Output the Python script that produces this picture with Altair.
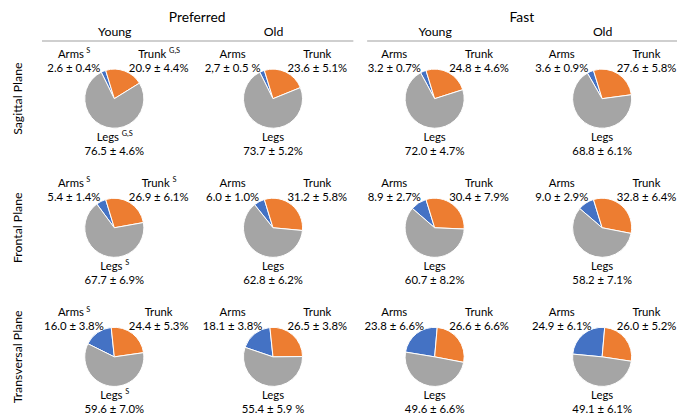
import math
import altair as alt
import pandas as pd

FONT = "Lato"

planes = ["Sagittal Plane", "Frontal Plane", "Transversal Plane"]
speeds = ["Preferred", "Fast"]
ages = ["Young", "Old"]
parts = ["Arms", "Trunk", "Legs"]
part_colors = ["#4472C4", "#ED7D31", "#A5A5A5"]

# columns: Preferred-Young, Preferred-Old, Fast-Young, Fast-Old
arms_mean = [[2.6, 2.7, 3.2, 3.6], [5.4, 6.0, 8.9, 9.0], [16.0, 18.1, 23.8, 24.9]]
trunk_mean = [[20.9, 23.6, 24.8, 27.6], [26.9, 31.2, 30.4, 32.8], [24.4, 26.5, 26.6, 26.0]]
legs_mean = [[76.5, 73.7, 72.0, 68.8], [67.7, 62.8, 60.7, 58.2], [59.6, 55.4, 49.6, 49.1]]

arms_text = [["2.6 ± 0.4%", "2,7 ± 0.5 %", "3.2 ± 0.7%", "3.6 ± 0.9%"],
             ["5.4 ± 1.4%", "6.0 ± 1.0%", "8.9 ± 2.7%", "9.0 ± 2.9%"],
             ["16.0 ± 3.8%", "18.1 ± 3.8%", "23.8 ± 6.6%", "24.9 ±  6.1%"]]
trunk_text = [["20.9 ± 4.4%", "23.6 ± 5.1%", "24.8 ± 4.6%", "27.6 ± 5.8%"],
              ["26.9 ± 6.1%", "31.2 ± 5.8%", "30.4 ± 7.9%", "32.8 ± 6.4%"],
              ["24.4 ± 5.3%", "26.5 ± 3.8%", "26.6 ± 6.6%", "26.0 ± 5.2%"]]
legs_text = [["76.5 ± 4.6%", "73.7 ± 5.2%", "72.0 ± 4.7%", "68.8 ± 6.1%"],
             ["67.7 ± 6.9%", "62.8 ± 6.2%", "60.7 ± 8.2%", "58.2 ± 7.1%"],
             ["59.6 ± 7.0%", "55.4 ± 5.9 %", "49.6 ± 6.6%", "49.1 ± 6.1%"]]

arms_sup = [["S", "", "", ""], ["S", "", "", ""], ["S", "", "", ""]]
trunk_sup = [["G,S", "", "", ""], ["S", "", "", ""], ["", "", "", ""]]
legs_sup = [["G,S", "", "", ""], ["S", "", "", ""], ["S", "", "", ""]]

means = {"Arms": arms_mean, "Trunk": trunk_mean, "Legs": legs_mean}
texts = {"Arms": arms_text, "Trunk": trunk_text, "Legs": legs_text}
sups = {"Arms": arms_sup, "Trunk": trunk_sup, "Legs": legs_sup}

rows = []
for pi, plane in enumerate(planes):
    ci = 0
    for speed in speeds:
        for age in ages:
            for part in parts:
                rows.append({
                    "plane": plane, "speed": speed, "age": age, "part": part,
                    "value": means[part][pi][ci],
                    "label": texts[part][pi][ci],
                    "sup": sups[part][pi][ci],
                })
            ci += 1
df = pd.DataFrame(rows)

# label layout: (dx, name dy, value dy, name width)
label_pos = {
    "Arms": (-41, -44, -30, 27),
    "Trunk": (45, -44, -30, 30),
    "Legs": (0, 40, 54, 24),
}
sup_width = {"": 0, "S": 4, "G,S": 11}

H = 375
TWO_PI = 2 * math.pi


def panel(speed, width, xpad, xalign, rot_top, rot_bottom, row_labels):
    base = alt.Chart(df).transform_filter(alt.datum.speed == speed)
    xenc = alt.X(
        "age:N",
        scale=alt.Scale(type="point", domain=ages, padding=xpad, align=xalign),
        axis=alt.Axis(orient="top", title=None, ticks=False, grid=False,
                      domainColor="#BFBFBF", domainWidth=1.5, labelAngle=0,
                      labelFont=FONT, labelFontSize=12.5, labelColor="black",
                      labelPadding=2),
    )
    yenc = alt.Y(
        "plane:N",
        scale=alt.Scale(type="point", domain=planes, padding=0.431, align=0.522),
        axis=None,
    )
    stacked = (
        base.transform_calculate(order="indexof(['Trunk','Legs','Arms'], datum.part)")
        .transform_stack(stack="value", groupby=["plane", "age"], as_=["t0", "t1"],
                         offset="normalize", sort=[alt.SortField("order")])
    )

    def pie(filt, rot_deg):
        r = math.radians(rot_deg)
        return (
            stacked.transform_filter(filt)
            .mark_arc(radius=30, stroke="white", strokeWidth=1)
            .encode(
                x=xenc, y=yenc,
                theta=alt.Theta("t0:Q", stack=None,
                                scale=alt.Scale(domain=[0, 1], range=[r, r + TWO_PI])),
                theta2="t1:Q",
                color=alt.Color("part:N", scale=alt.Scale(domain=parts, range=part_colors), legend=None),
            )
        )

    pies_top = pie(alt.datum.plane != "Transversal Plane", rot_top)
    pies_bottom = pie(alt.datum.plane == "Transversal Plane", rot_bottom)
    layers = [pies_top, pies_bottom]
    for part in parts:
        dx, dyn, dyv, nw = label_pos[part]
        pbase = base.transform_filter(alt.datum.part == part)
        layers.append(
            pbase.mark_text(font=FONT, fontSize=11.5, color="black", dx=dx, dy=dyv)
            .encode(x=xenc, y=yenc, text="label:N")
        )
        for s, sw in sup_width.items():
            shift = (sw + 2) / 2 if sw else 0
            sb = pbase.transform_filter(alt.datum.sup == s)
            layers.append(
                sb.mark_text(font=FONT, fontSize=11.5, color="black", dx=dx - shift, dy=dyn)
                .encode(x=xenc, y=yenc, text="part:N")
            )
            if sw:
                layers.append(
                    sb.mark_text(font=FONT, fontSize=7.5, color="black", align="left",
                                 dx=dx - shift + nw / 2 + 2, dy=dyn - 4)
                    .encode(x=xenc, y=yenc, text="sup:N")
                )
    if row_labels:
        layers.append(
            base.transform_filter((alt.datum.part == "Arms") & (alt.datum.age == "Young"))
            .mark_text(font=FONT, fontSize=12.5, color="black", angle=270)
            .encode(x=alt.value(-24), y=yenc, text="plane:N")
        )
    return alt.layer(*layers).resolve_scale(theta="independent").properties(
        width=width, height=H,
        title=alt.TitleParams(speed, font=FONT, fontSize=14, fontWeight="normal",
                              color="black", offset=1, anchor="middle"),
    )


left = panel("Preferred", 316, 0.481, 0.477, -17, -6, True)
right = panel("Fast", 315, 0.4265, 0.476, -17, 5, False)

chart = (
    alt.hconcat(left, right, spacing=11)
    .properties(padding={"left": 3, "top": 0, "right": 0, "bottom": 0})
    .configure_view(stroke=None)
)

chart.save("out.html", embed_options={"renderer": "svg", "actions": False})
